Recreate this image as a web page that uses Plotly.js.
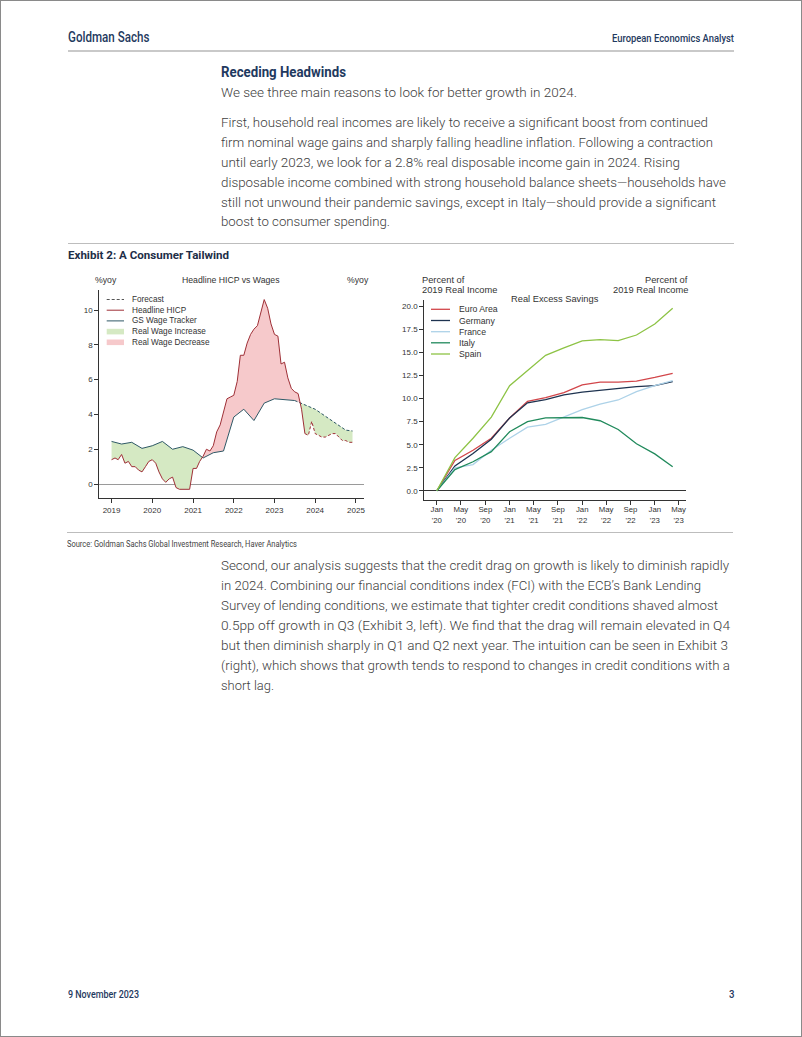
<!DOCTYPE html>
<html><head><meta charset="utf-8">
<script src="https://cdn.plot.ly/plotly-3.0.1.min.js"></script>
<style>
html,body{margin:0;padding:0;background:#fff;}
#page{position:relative;width:802px;height:1037px;overflow:hidden;background:#fff;}
#frame{position:absolute;left:0;top:0;width:802px;height:1037px;box-sizing:border-box;border:1px solid #8a8a8a;pointer-events:none;z-index:5}
#chart{position:absolute;left:0;top:0;width:802px;height:1037px;z-index:1}
.t{position:absolute;white-space:nowrap;line-height:1;transform-origin:0 0;z-index:3;font-family:Roboto,"Liberation Sans",sans-serif}
.rule{position:absolute;z-index:2}
</style></head>
<body><div id="page"><div id="chart"></div><div id="frame"></div></div>
<script>
// ---------------- DATA ----------------
// Left panel: Headline HICP (monthly, %yoy) and GS Wage Tracker (%yoy)
const hicpYears = [2019, 2020, 2021, 2022, 2023, 2024];
const hicpValues = [
  1.4, 1.5, 1.4, 1.7, 1.2, 1.3, 1.0, 1.0, 0.8, 0.7, 1.0, 1.3,
  1.4, 1.2, 0.7, 0.3, 0.1, 0.3, 0.4, -0.2, -0.3, -0.3, -0.3, -0.3,
  0.9, 0.9, 1.3, 1.6, 2.0, 1.9, 2.2, 3.0, 3.4, 4.1, 4.9, 5.0,
  5.1, 5.9, 7.4, 7.4, 8.1, 8.6, 8.9, 9.1, 9.9, 10.6, 10.1, 9.2,
  8.6, 8.5, 6.9, 7.0, 6.1, 5.5, 5.3, 5.2, 4.3, 2.9, 2.8, 3.6,
  2.9, 2.8, 2.7, 2.7, 2.8, 2.9, 2.9, 2.7, 2.5, 2.5, 2.4, 2.4
];
const hicpForecastStart = '2023-10-01';
const wageDates = ['2019-01-01','2019-04-01','2019-07-01','2019-10-01','2020-01-01','2020-04-01','2020-07-01','2020-10-01',
  '2021-01-01','2021-04-01','2021-07-01','2021-10-01','2022-01-01','2022-04-01','2022-07-01','2022-10-01',
  '2023-01-01','2023-04-01','2023-07-01','2023-10-01','2024-01-01','2024-04-01','2024-07-01','2024-10-01','2024-12-01'];
const wageValues = [2.45, 2.3, 2.4, 2.05, 2.2, 2.45, 2.0, 2.15,
  1.95, 1.5, 1.8, 1.9, 3.85, 4.3, 3.65, 4.65,
  4.9, 4.85, 4.8, 4.55, 4.3, 3.9, 3.5, 3.1, 3.05];
const wageForecastStart = '2023-07-01';
const leftXTickVals = ['2019-01-01','2020-01-01','2021-01-01','2022-01-01','2023-01-01','2024-01-01','2025-01-01'];
const leftXTickText = ['2019','2020','2021','2022','2023','2024','2025'];
const leftYTicks = [0, 2, 4, 6, 8, 10];
const leftLegendLabels = ['Forecast','Headline HICP','GS Wage Tracker','Real Wage Increase','Real Wage Decrease'];

// Right panel: Real excess savings, % of 2019 real income (quarterly)
const savingsDates = ['2020-01-01','2020-04-01','2020-07-01','2020-10-01','2021-01-01','2021-04-01','2021-07-01',
  '2021-10-01','2022-01-01','2022-04-01','2022-07-01','2022-10-01','2023-01-01','2023-04-01'];
const euroArea = [0, 3.3, 4.4, 5.7, 7.9, 9.7, 10.1, 10.65, 11.5, 11.8, 11.8, 11.9, 12.3, 12.75];
const germany  = [0, 2.7, 4.05, 5.6, 7.9, 9.55, 9.9, 10.4, 10.7, 10.9, 11.1, 11.3, 11.4, 11.85];
const france   = [0, 2.5, 2.85, 4.4, 5.7, 6.9, 7.2, 8.0, 8.8, 9.4, 9.85, 10.75, 11.4, 11.95];
const italy    = [0, 2.3, 3.15, 4.25, 6.4, 7.5, 7.9, 7.95, 7.95, 7.6, 6.65, 5.1, 4.0, 2.6];
const spain    = [0, 3.6, 5.7, 8.0, 11.4, 13.0, 14.7, 15.5, 16.27, 16.4, 16.3, 16.9, 18.1, 19.8];
const savingsNames = ['Euro Area','Germany','France','Italy','Spain'];
const rightXTickVals = ['2020-01-01','2020-05-01','2020-09-01','2021-01-01','2021-05-01','2021-09-01','2022-01-01','2022-05-01','2022-09-01','2023-01-01','2023-05-01'];
const rightXTickText = ["Jan<br>'20","May<br>'20","Sep<br>'20","Jan<br>'21","May<br>'21","Sep<br>'21","Jan<br>'22","May<br>'22","Sep<br>'22","Jan<br>'23","May<br>'23"];
const rightYTicks = [0, 2.5, 5, 7.5, 10, 12.5, 15, 17.5, 20];

// ---------------- STYLE ----------------
const FONT = '"Liberation Sans", Arial, sans-serif';
const C = {hicp:'#9e2f36', wage:'#2e5866', green:'#d5e9c3', pink:'#f6c9cb', fc:'#555555',
  ea:'#d2464a', de:'#1e3350', fr:'#add2e8', it:'#218a5c', es:'#8dc345'};
const seriesColors = [C.ea, C.de, C.fr, C.it, C.es];
const W0 = 802, H0 = 1037;
const px = x => x / W0, py = y => 1 - y / H0;

// ---------------- BUILD ----------------
const hicpDates = [];
hicpYears.forEach(y => { for (let m = 1; m <= 12; m++) hicpDates.push(y + '-' + String(m).padStart(2,'0') + '-01'); });

function fmt(t){const d=new Date(t);const p=n=>String(n).padStart(2,'0');
  return d.getUTCFullYear()+'-'+p(d.getUTCMonth()+1)+'-'+p(d.getUTCDate())+' '+p(d.getUTCHours())+':'+p(d.getUTCMinutes())+':'+p(d.getUTCSeconds());}
function interp(ts,vs,t){for(let i=0;i<ts.length-1;i++){if(t>=ts[i]&&t<=ts[i+1]){const f=(t-ts[i])/(ts[i+1]-ts[i]);return vs[i]+f*(vs[i+1]-vs[i]);}}return null;}
const ht = hicpDates.map(Date.parse), wt = wageDates.map(Date.parse);
const t0 = Math.max(ht[0], wt[0]), t1 = Math.min(ht[ht.length-1], wt[wt.length-1]);
const grid = [...new Set([...ht, ...wt])].filter(t => t >= t0 && t <= t1).sort((a,b)=>a-b);
const G=[], Hh=[], Ww=[];
grid.forEach((t,i) => {
  const h = interp(ht,hicpValues,t), w = interp(wt,wageValues,t);
  if (i > 0) {
    const tp=G[G.length-1], hp=Hh[Hh.length-1], wp=Ww[Ww.length-1];
    const dp=wp-hp, dc=w-h;
    if (dp*dc < 0) { const f=dp/(dp-dc); const tc=tp+f*(t-tp); const vc=hp+f*(h-hp); G.push(tc); Hh.push(vc); Ww.push(vc); }
  }
  G.push(t); Hh.push(h); Ww.push(w);
});
const gx = G.map(fmt);
const upper = Hh.map((h,i) => Math.max(h, Ww[i]));
const noLine = {width:0, color:'rgba(0,0,0,0)'};
const traces = [];
traces.push({x:gx, y:Hh, mode:'lines', line:noLine, hoverinfo:'skip', xaxis:'x', yaxis:'y'});
traces.push({x:gx, y:upper, mode:'lines', line:noLine, fill:'tonexty', fillcolor:C.green, hoverinfo:'skip', xaxis:'x', yaxis:'y'});
traces.push({x:gx, y:Ww, mode:'lines', line:noLine, hoverinfo:'skip', xaxis:'x', yaxis:'y'});
traces.push({x:gx, y:upper, mode:'lines', line:noLine, fill:'tonexty', fillcolor:C.pink, hoverinfo:'skip', xaxis:'x', yaxis:'y'});

function split(dates, vals, start){
  const s = Date.parse(start), a={x:[],y:[]}, f={x:[],y:[]};
  dates.forEach((d,i)=>{const t=Date.parse(d); if(t<=s){a.x.push(d);a.y.push(vals[i]);} if(t>=s){f.x.push(d);f.y.push(vals[i]);}});
  return [a,f];
}
const [hA,hF] = split(hicpDates, hicpValues, hicpForecastStart);
const [wA,wF] = split(wageDates, wageValues, wageForecastStart);
traces.push({x:wA.x, y:wA.y, mode:'lines', line:{color:C.wage, width:1}, xaxis:'x', yaxis:'y', name:'GS Wage Tracker'});
traces.push({x:wF.x, y:wF.y, mode:'lines', line:{color:C.wage, width:1, dash:'3px,2px'}, xaxis:'x', yaxis:'y'});
traces.push({x:hA.x, y:hA.y, mode:'lines', line:{color:C.hicp, width:1}, xaxis:'x', yaxis:'y', name:'Headline HICP'});
traces.push({x:hF.x, y:hF.y, mode:'lines', line:{color:C.hicp, width:1, dash:'3px,2px'}, xaxis:'x', yaxis:'y'});

[euroArea, germany, france, italy, spain].forEach((s,i) => {
  traces.push({x:savingsDates, y:s, mode:'lines', name:savingsNames[i], line:{color:seriesColors[i], width:1.3}, xaxis:'x2', yaxis:'y3'});
});

const axisFont = {family:FONT, size:8, color:'#333'};
const common = {showline:true, linecolor:'#333', linewidth:1, ticks:'outside', ticklen:4, tickwidth:1, tickcolor:'#333',
  tickfont:axisFont, showgrid:false, zeroline:false, fixedrange:true, tickmode:'array', tickangle:0};
const lRange = [-0.8, 11.15], rRange = [-1.0, 20.7];

const shapes = [], annotations = [];
function ann(text, x, y, size, xanchor){annotations.push({text, x:px(x), y:py(y), xref:'paper', yref:'paper', xanchor:xanchor||'center', yanchor:'middle', showarrow:false, font:{family:FONT, size, color:'#333'}});}
ann('%yoy', 106, 280, 8.7);
ann('Headline HICP vs Wages', 231.5, 280, 8.7);
ann('%yoy', 358, 280, 8.7);
ann('Percent of', 420, 280, 9.3, 'left');
ann('2019 Real Income', 420, 290, 9.3, 'left');
ann('Percent of', 690, 280, 9.3, 'right');
ann('2019 Real Income', 690, 290, 9.3, 'right');
ann('Real Excess Savings', 555, 299, 9.3);

// left legend
const lRows = [299.5, 310.2, 320.9, 331.6, 342.3];
const lSym = [{type:'line', color:C.fc, dash:'3px,2px'}, {type:'line', color:C.hicp}, {type:'line', color:C.wage}, {type:'rect', color:C.green}, {type:'rect', color:C.pink}];
lRows.forEach((y,i) => {
  const s = lSym[i];
  if (s.type==='line') shapes.push({type:'line', xref:'paper', yref:'paper', x0:px(106.7), x1:px(124), y0:py(y), y1:py(y), line:{color:s.color, width:1, dash:s.dash||'solid'}});
  else shapes.push({type:'rect', xref:'paper', yref:'paper', x0:px(106.7), x1:px(124), y0:py(y-2.8), y1:py(y+2.8), fillcolor:s.color, line:{width:0}});
  ann(leftLegendLabels[i], 130, y, 8.2, 'left');
});
const rRows = [309.3, 320.5, 331.7, 342.8, 354];
rRows.forEach((y,i) => {
  shapes.push({type:'line', xref:'paper', yref:'paper', x0:px(431), x1:px(450), y0:py(y), y1:py(y), line:{color:seriesColors[i], width:1.3}});
  ann(savingsNames[i], 456.5, y, 8.7, 'left');
});

const layout = {
  width:W0, height:H0, margin:{l:0,r:0,t:0,b:0}, paper_bgcolor:'rgba(0,0,0,0)', plot_bgcolor:'rgba(0,0,0,0)', showlegend:false,
  font:{family:FONT, color:'#333'},
  xaxis:{...common, type:'date', domain:[px(99.3), px(364)], range:['2018-09-13','2025-03-14'], tickvals:leftXTickVals, ticktext:leftXTickText, anchor:'y'},
  yaxis:{...common, domain:[py(498), py(290)], range:lRange, tickvals:leftYTicks, ticktext:leftYTicks.map(String), anchor:'x', zeroline:true, zerolinecolor:'#9a9a9a', zerolinewidth:1},
  yaxis2:{...common, overlaying:'y', side:'right', anchor:'x', range:lRange, tickvals:leftYTicks, ticktext:leftYTicks.map(String)},
  xaxis2:{...common, type:'date', domain:[px(424.3), px(686)], range:['2019-10-30','2023-06-07'], tickvals:rightXTickVals, ticktext:rightXTickText, anchor:'y3',
    tickfont:{family:FONT, size:7.8, color:'#333'}, ticklabelstandoff:-2},
  yaxis3:{...common, domain:[py(500), py(300)], range:rRange, tickvals:rightYTicks, ticktext:rightYTicks.map(v=>v.toFixed(1)), anchor:'x2', zeroline:true, zerolinecolor:'#333', zerolinewidth:1},
  yaxis4:{...common, overlaying:'y3', side:'right', anchor:'x2', range:rRange, tickvals:rightYTicks, ticktext:rightYTicks.map(v=>v.toFixed(1))},
  shapes, annotations
};
Plotly.newPlot('chart', traces, layout, {staticPlot:true, displayModeBar:false});

// ---------------- PAGE TEXT ----------------
const NAVY = '#1f3a60', BODY = '#404040';
const p1 = ['We see three main reasons to look for better growth in 2024.',
 'First, household real incomes are likely to receive a significant boost from continued',
 'firm nominal wage gains and sharply falling headline inflation. Following a contraction',
 'until early 2023, we look for a 2.8% real disposable income gain in 2024. Rising',
 'disposable income combined with strong household balance sheets\u2014households have',
 'still not unwound their pandemic savings, except in Italy\u2014should provide a significant',
 'boost to consumer spending.'];
const p1y = [93, 123.5, 143.5, 163.3, 183.2, 203, 222.5];
const p1w = [356, 487, 492, 459, 505, 495, 169];
const p2 = ['Second, our analysis suggests that the credit drag on growth is likely to diminish rapidly',
 'in 2024. Combining our financial conditions index (FCI) with the ECB\u2019s Bank Lending',
 'Survey of lending conditions, we estimate that tighter credit conditions shaved almost',
 '0.5pp off growth in Q3 (Exhibit 3, left). We find that the drag will remain elevated in Q4',
 'but then diminish sharply in Q1 and Q2 next year. The intuition can be seen in Exhibit 3',
 '(right), which shows that growth tends to respond to changes in credit conditions with a',
 'short lag.'];
const p2y = [566.5, 586.5, 606.5, 626.5, 646.5, 666.5, 686.5];
const p2w = [508, 480, 497, 509, 507, 509, 53];
const texts = [
  {t:'Goldman Sachs', x:68, y:37, w:81.5, s:14, c:NAVY, wt:500},
  {t:'European Economics Analyst', r:734, y:38.5, w:122, s:11.5, c:NAVY, wt:500},
  {t:'Receding Headwinds', x:221, y:72, w:125, s:14, c:NAVY, wt:700},
  {t:'Exhibit 2: A Consumer Tailwind', x:68, y:256, w:161, s:11.5, c:'#1d2e48', wt:700},
  {t:'Source: Goldman Sachs Global Investment Research, Haver Analytics', x:67, y:544, w:230, s:9.5, c:'#444', wt:400},
  {t:'9 November 2023', x:68, y:995, w:71, s:11, c:NAVY, wt:500},
  {t:'3', r:734.5, y:995, w:5.5, s:11, c:NAVY, wt:500}
];
p1.forEach((t,i)=>texts.push({t, x:221, y:p1y[i], w:p1w[i], s:13.5, c:BODY, wt:300}));
p2.forEach((t,i)=>texts.push({t, x:221, y:p2y[i], w:p2w[i], s:13.5, c:BODY, wt:300}));
const page = document.getElementById('page');
[{x:68,y:50,w:666,h:2,c:'#c9c9c9'},{x:68,y:242.5,w:666,h:1,c:'#bdbdbd'},{x:67,y:532,w:666,h:1,c:'#bdbdbd'}].forEach(r=>{
  const d=document.createElement('div'); d.className='rule';
  Object.assign(d.style,{left:r.x+'px',top:r.y+'px',width:r.w+'px',height:r.h+'px',background:r.c}); page.appendChild(d);
});
const els = texts.map(o=>{
  const d=document.createElement('div'); d.className='t'; d.textContent=o.t;
  Object.assign(d.style,{fontSize:o.s+'px',color:o.c,fontWeight:o.wt,top:(o.y-0.52*o.s)+'px',left:(o.x!==undefined?o.x:o.r-o.w)+'px'});
  page.appendChild(d); return [d,o];
});
function fit(){els.forEach(([d,o])=>{d.style.transform='none'; const w=d.getBoundingClientRect().width; if(w>0) d.style.transform='scaleX('+(o.w/w)+')';});}
fit();
if (document.fonts && document.fonts.ready) document.fonts.ready.then(fit);
</script></body></html>
